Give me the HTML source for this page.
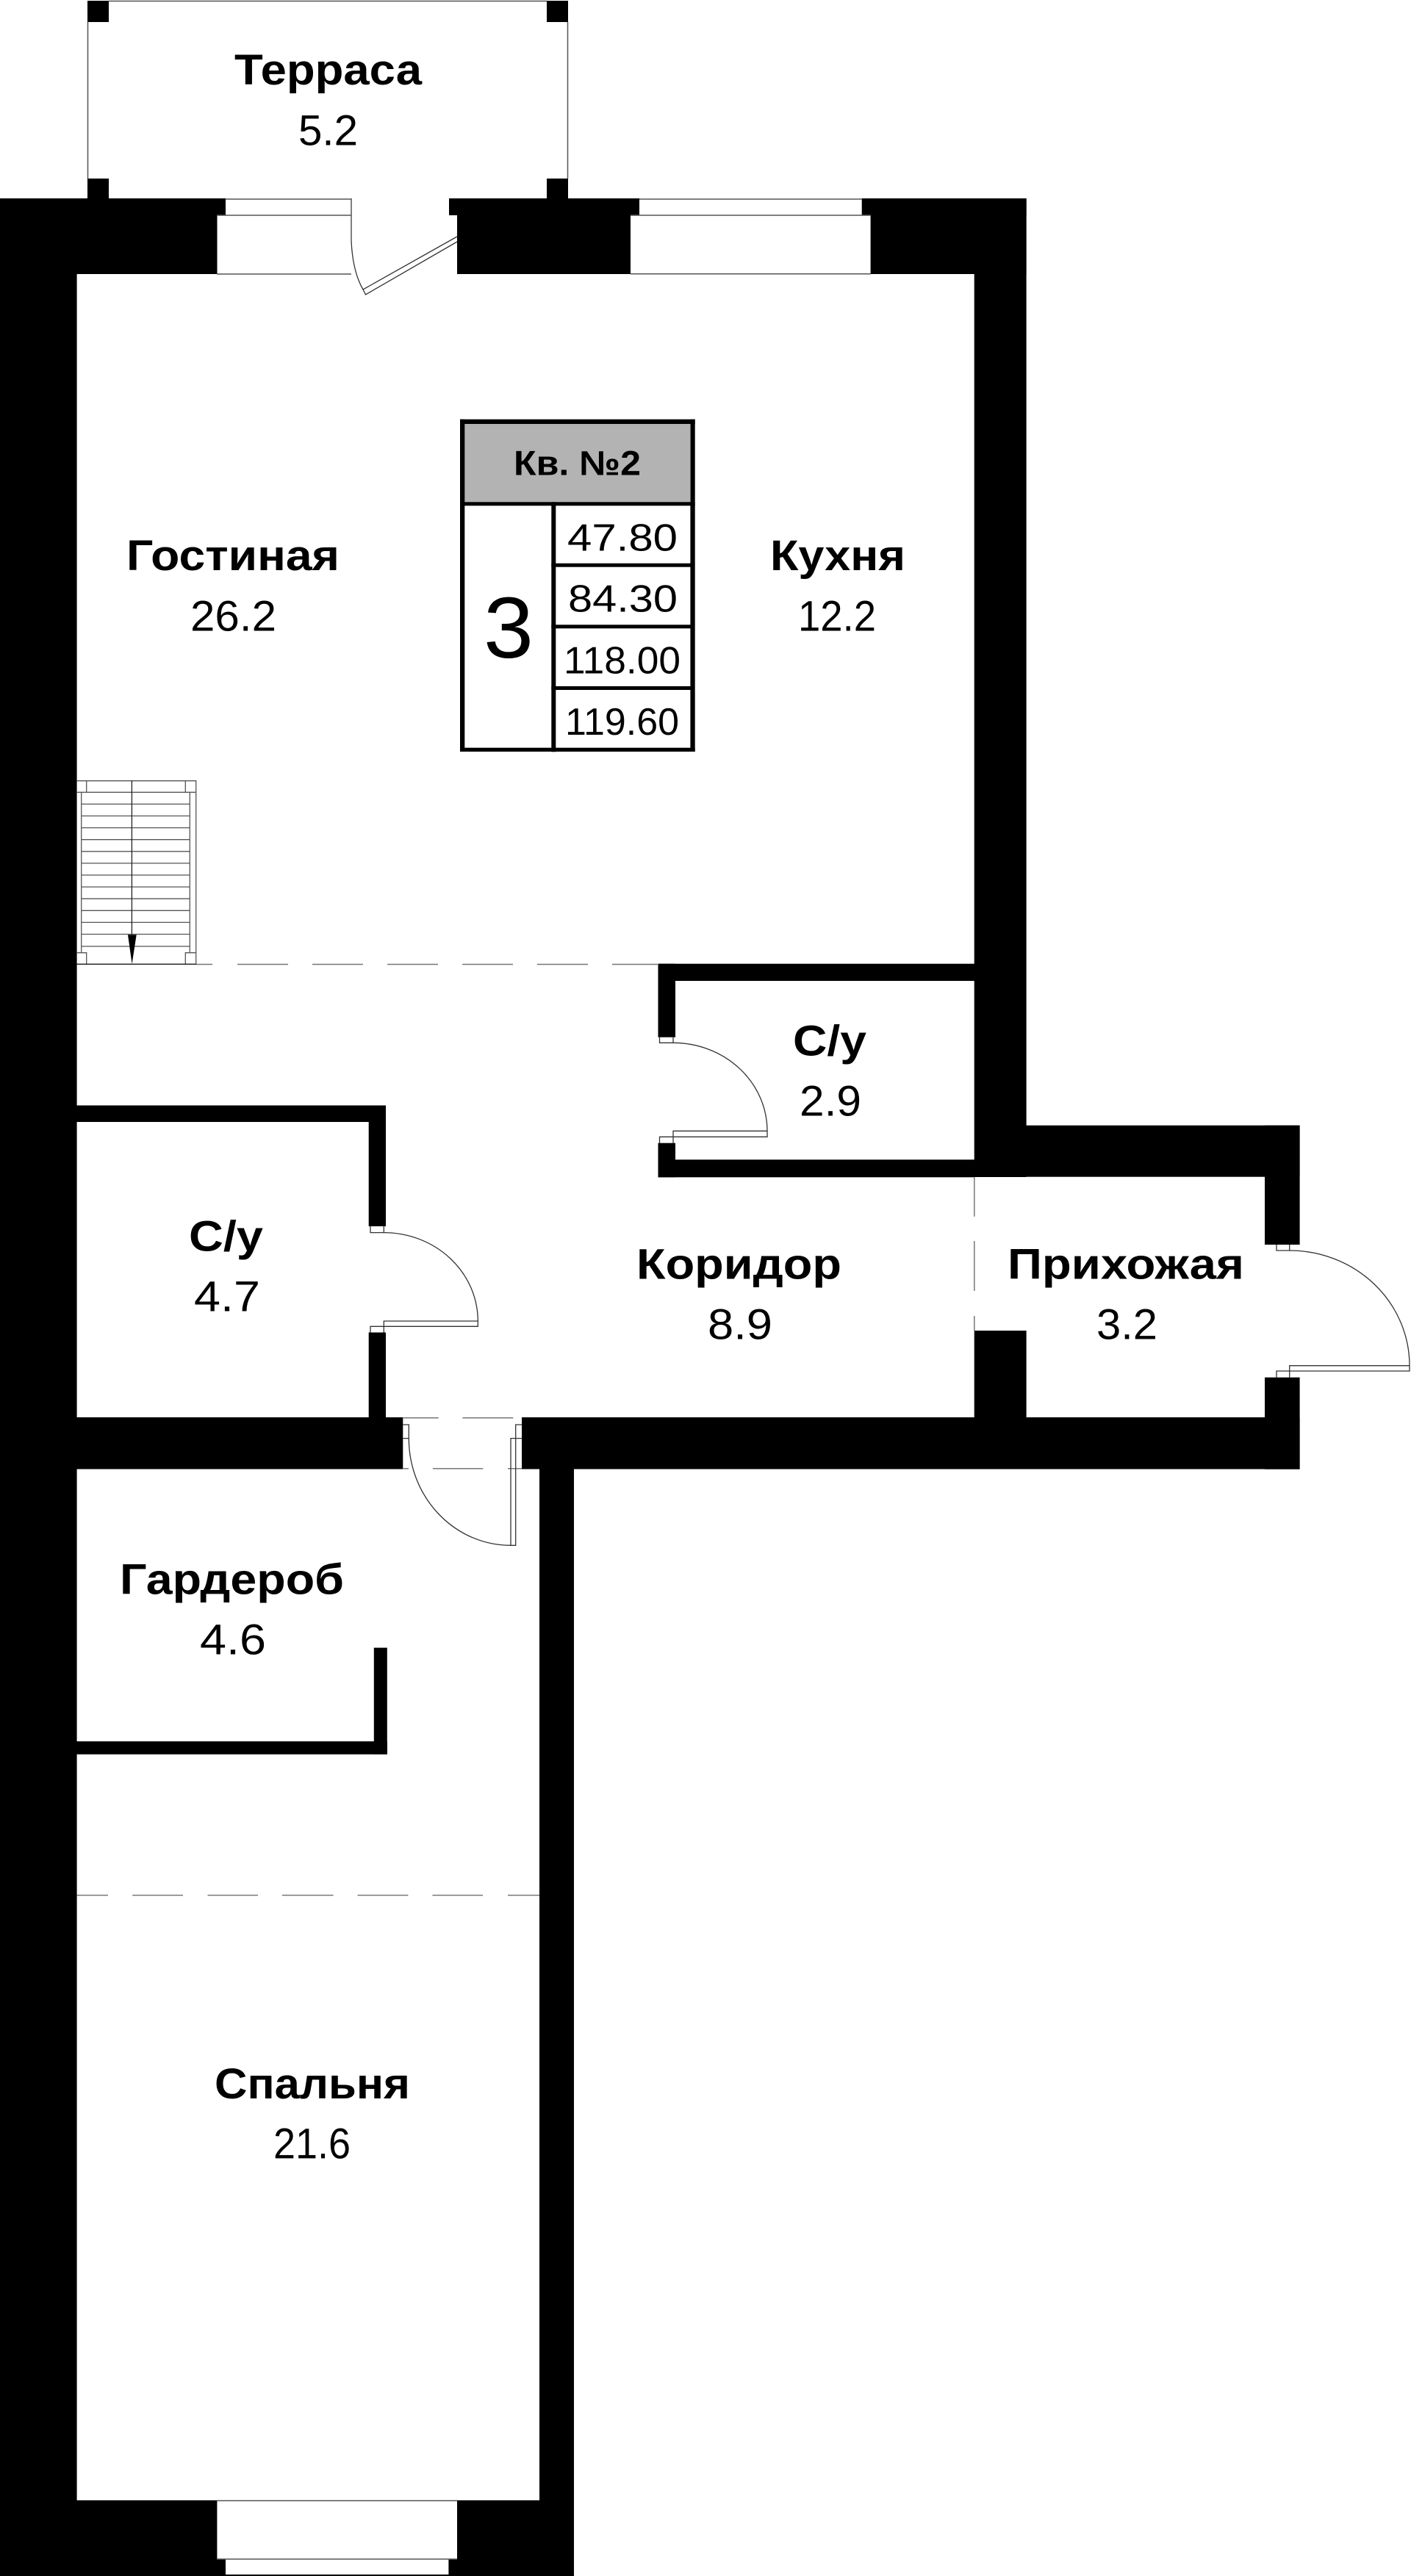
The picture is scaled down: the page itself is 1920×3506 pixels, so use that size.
<!DOCTYPE html>
<html lang="ru"><head><meta charset="utf-8"><title>Кв. №2</title>
<style>
html,body{margin:0;padding:0;background:#fff;width:1920px;height:3506px;overflow:hidden}
svg{display:block}
text{font-family:"Liberation Sans",sans-serif;fill:#000}
.b{font-weight:700;font-size:58px}
.r{font-weight:400;font-size:58.5px}
.t{font-weight:400;font-size:52px}
</style></head><body>
<svg width="1920" height="3506" viewBox="0 0 1920 3506" xmlns="http://www.w3.org/2000/svg">
<rect width="1920" height="3506" fill="#fff"/>
<!-- terrace frame -->
<path d="M119.5 30V243M772.5 30V243M148 1.5H744" fill="none" stroke="#555" stroke-width="1.5"/>
<g fill="#000">
<rect x="119" y="1" width="29" height="29"/><rect x="744" y="1" width="29" height="29"/>
<rect x="119" y="243" width="29" height="27"/><rect x="744" y="243" width="29" height="27"/>
<!-- outer walls -->
<rect x="0" y="270" width="104.6" height="3236"/>
<rect x="0" y="270" width="307" height="23"/><rect x="0" y="293" width="295.5" height="80"/>
<rect x="611" y="270" width="259" height="23"/><rect x="622" y="293" width="236" height="80"/>
<rect x="1172.7" y="270" width="224" height="23"/><rect x="1184.6" y="293" width="212" height="80"/>
<rect x="1325.7" y="270" width="70.9" height="1332"/>
<!-- WC 2 -->
<rect x="895.5" y="1311.7" width="431" height="23.3"/>
<rect x="895.5" y="1311.7" width="23.5" height="100"/>
<rect x="895.5" y="1555.7" width="23.5" height="46.6"/>
<rect x="895.5" y="1578.3" width="431" height="24"/>
<!-- entry -->
<rect x="1326" y="1531.7" width="442.6" height="70"/>
<rect x="1721" y="1531.7" width="47.6" height="162.3"/>
<rect x="1721" y="1874.7" width="47.6" height="125"/>
<rect x="1325.7" y="1811" width="70.9" height="118"/>
<!-- middle band -->
<rect x="710" y="1929" width="1058.6" height="70.5"/>
<rect x="0" y="1929" width="548.3" height="70.5"/>
<!-- WC 1 -->
<rect x="104" y="1504.5" width="421" height="22.5"/>
<rect x="501.7" y="1504.5" width="23.3" height="164.5"/>
<rect x="501.7" y="1813.5" width="23.3" height="116"/>
<!-- right lower wall -->
<rect x="734" y="1999" width="47" height="1507"/>
<!-- wardrobe -->
<rect x="104" y="2370" width="423" height="17.7"/>
<rect x="508.8" y="2242.6" width="18" height="145"/>
<!-- bottom -->
<rect x="0" y="3403" width="295.4" height="80"/><rect x="0" y="3483" width="307" height="23"/>
<rect x="622" y="3403" width="159" height="80"/><rect x="610.4" y="3483" width="170.6" height="23"/>
<rect x="307" y="3504" width="304" height="2"/>
</g>
<!-- window lines -->
<path d="M307 271H478M295 293H478M295 373H478M478 270V328M870 271H1173M858 293H1185M858 372.7H1185M295 3403.5H622M295 3483H622" fill="none" stroke="#555" stroke-width="1.5"/>
<!-- dashed -->
<g fill="none" stroke="#777" stroke-width="1.5">
<path d="M266 1312.5H289M323 1312.5H392M425 1312.5H494M527 1312.5H596M629 1312.5H698M731 1312.5H800M833 1312.5H895"/>
<path d="M104.6 2579.5H147M180.2 2579.5H249M282.5 2579.5H351M383.8 2579.5H453.6M486.6 2579.5H555.4M588.4 2579.5H657M691 2579.5H734"/>
<path d="M1325.8 1602V1655.7M1325.8 1689V1757M1325.8 1791V1811"/>
<path d="M548 1929.8H596.7M629.3 1929.8H698.3M548 1998.8H556M589 1998.8H657.3M691 1998.8H710"/>
</g>
<!-- stairs -->
<g fill="none" stroke="#555" stroke-width="1.3">
<path d="M104 1062.7H266.7V1312.3H104"/>
<path d="M104 1078.3H117.7V1062.7M252.3 1062.7V1078.3H266.7M104 1296.7H117.7V1312.3M252.3 1312.3V1296.7H266.7"/>
<path d="M110.7 1078.3V1296.7M258.3 1078.3V1296.7"/>
<path d="M117.7 1078.3H252.3M110.7 1094.4H258.3M110.7 1110.5H258.3M110.7 1126.6H258.3M110.7 1142.7H258.3M110.7 1158.8H258.3M110.7 1174.9H258.3M110.7 1191H258.3M110.7 1207.1H258.3M110.7 1223.2H258.3M110.7 1239.3H258.3M110.7 1255.4H258.3M110.7 1271.5H258.3M110.7 1288H258.3"/>
<path d="M179.4 1062.7V1272" stroke="#222"/>
<path d="M104 1312.3H266.7" stroke="#222"/>
</g>
<polygon points="174,1272.3 185.7,1272.3 179.6,1312" fill="#000"/>
<!-- doors -->
<g fill="none" stroke="#333" stroke-width="1.3">
<!-- terrace -->
<path d="M622 322L494 394L497.5 401L622 329"/>
<path d="M478 328Q480 370 494 394"/>
<!-- WC 2 -->
<path d="M897.5 1411.7V1419.3H916V1411.7"/>
<path d="M916 1419.3A128 120 0 0 1 1044 1539.3V1547.3H916V1539.3H1044M916 1547.3H897.5V1555.7M916 1547.3V1555.7"/>
<!-- WC 1 -->
<path d="M504 1669V1677.6H522.3V1669"/>
<path d="M522.3 1677.6A128 120.4 0 0 1 650.3 1798V1805.3H522.3V1798H650.3M522.3 1805.3H504V1813.5M522.3 1805.3V1813.5"/>
<!-- entry -->
<path d="M1737 1694V1702H1754.7V1694"/>
<path d="M1754.7 1702A163.3 156.7 0 0 1 1918 1858.7V1866H1754.7V1858.7H1918M1754.7 1866H1737V1874.7M1754.7 1866V1874.7"/>
<!-- bedroom -->
<path d="M548.3 1939H556.3V1957.6H548.3"/>
<path d="M556.3 1957.6A138.7 145.7 0 0 0 695 2103.3H701.7V1957.6H695V2103.3M701.7 1957.6H710M701.7 1957.6V1939H710"/>
</g>
<!-- table -->
<rect x="632" y="577" width="307" height="106.5" fill="#b3b3b3"/>
<g fill="#000">
<rect x="626" y="570.7" width="319.7" height="6.3"/>
<rect x="626" y="570.7" width="6.3" height="452.3"/>
<rect x="939.4" y="570.7" width="6.3" height="452.3"/>
<rect x="626" y="1017.7" width="319.7" height="5.3"/>
<rect x="626" y="683.3" width="319.7" height="5"/>
<rect x="750.3" y="683.3" width="6" height="340"/>
<rect x="750.3" y="766.7" width="195" height="5"/>
<rect x="750.3" y="850.3" width="195" height="5"/>
<rect x="750.3" y="934" width="195" height="5"/>
</g>
<text class="b" style="font-size:47px" x="699" y="646.7" textLength="173" lengthAdjust="spacingAndGlyphs">Кв. №2</text>
<text style="font-size:118px" x="658" y="895" textLength="68" lengthAdjust="spacingAndGlyphs">3</text>
<text class="t" x="772" y="749.3" textLength="150" lengthAdjust="spacingAndGlyphs">47.80</text>
<text class="t" x="773" y="832.7" textLength="149" lengthAdjust="spacingAndGlyphs">84.30</text>
<text class="t" x="767" y="916.7" textLength="159" lengthAdjust="spacingAndGlyphs">118.00</text>
<text class="t" x="769" y="1000" textLength="155" lengthAdjust="spacingAndGlyphs">119.60</text>
<!-- labels -->
<text class="b" x="319" y="115" textLength="255" lengthAdjust="spacingAndGlyphs">Терраса</text>
<text class="r" x="406" y="197.7" textLength="81" lengthAdjust="spacingAndGlyphs">5.2</text>
<text class="b" x="172" y="776" textLength="290" lengthAdjust="spacingAndGlyphs">Гостиная</text>
<text class="r" x="259" y="858.3" textLength="117" lengthAdjust="spacingAndGlyphs">26.2</text>
<text class="b" x="1048" y="776" textLength="184" lengthAdjust="spacingAndGlyphs">Кухня</text>
<text class="r" x="1086" y="858.3" textLength="106" lengthAdjust="spacingAndGlyphs">12.2</text>
<text class="b" x="1079" y="1436.7" textLength="100" lengthAdjust="spacingAndGlyphs">С/у</text>
<text class="r" x="1088" y="1518.3" textLength="84" lengthAdjust="spacingAndGlyphs">2.9</text>
<text class="b" x="257" y="1702.7" textLength="101" lengthAdjust="spacingAndGlyphs">С/у</text>
<text class="r" x="264" y="1784.3" textLength="90" lengthAdjust="spacingAndGlyphs">4.7</text>
<text class="b" x="866" y="1740.7" textLength="279" lengthAdjust="spacingAndGlyphs">Коридор</text>
<text class="r" x="963" y="1822.3" textLength="88" lengthAdjust="spacingAndGlyphs">8.9</text>
<text class="b" x="1371" y="1740.7" textLength="322" lengthAdjust="spacingAndGlyphs">Прихожая</text>
<text class="r" x="1492" y="1822.7" textLength="83" lengthAdjust="spacingAndGlyphs">3.2</text>
<text class="b" x="163" y="2169.4" textLength="305" lengthAdjust="spacingAndGlyphs">Гардероб</text>
<text class="r" x="272" y="2251.7" textLength="90" lengthAdjust="spacingAndGlyphs">4.6</text>
<text class="b" x="292" y="2856" textLength="266" lengthAdjust="spacingAndGlyphs">Спальня</text>
<text class="r" x="372" y="2937.4" textLength="105" lengthAdjust="spacingAndGlyphs">21.6</text>
</svg>
</body></html>
